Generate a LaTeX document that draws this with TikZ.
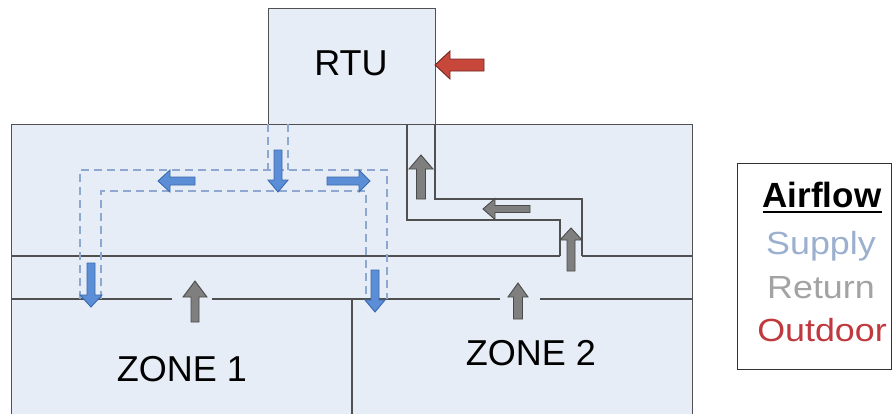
\documentclass[tikz,border=0pt]{standalone}
\usepackage{fontspec}
\setmainfont{Liberation Sans}
\newfontfamily\legfont[FakeStretch=1.12]{Liberation Sans}
\definecolor{bldfill}{HTML}{E7EDF6}
\definecolor{wallc}{HTML}{505050}
\definecolor{supfill}{HTML}{5B8ED6}
\definecolor{supdraw}{HTML}{3A6AAE}
\definecolor{supdash}{HTML}{8FA8D2}
\definecolor{retfill}{HTML}{7F7F7F}
\definecolor{retdraw}{HTML}{4A4A4A}
\definecolor{outfill}{HTML}{C8473B}
\definecolor{outdraw}{HTML}{6E2A24}
\definecolor{suptext}{HTML}{9BB0CE}
\definecolor{rettext}{HTML}{A3A3A3}
\definecolor{outtext}{HTML}{C0393E}
\tikzset{
  pics/blockarrow/.style n args={4}{code={
    \path[pic actions] (0,-#2) -- ({#1-#4},-#2) -- ({#1-#4},-#3) -- (#1,0)
      -- ({#1-#4},#3) -- ({#1-#4},#2) -- (0,#2) -- cycle;
  }},
  supply/.style={fill=supfill, draw=supdraw, line width=0.9pt},
  return/.style={fill=retfill, draw=retdraw, line width=0.9pt},
  outdoor/.style={fill=outfill, draw=outdraw, line width=0.9pt},
  wall/.style={draw=wallc, line width=1.3pt},
  duct/.style={draw=supdash, line width=1.4pt, dash pattern=on 8pt off 5pt},
  bigtext/.style={inner sep=0pt, font=\fontsize{36}{40}\selectfont},
  legtext/.style={inner sep=0pt, anchor=base, font=\legfont\fontsize{32}{36}\selectfont},
}
\begin{document}
\begin{tikzpicture}[x=1pt, y=-1pt]
\useasboundingbox (0,0) rectangle (893,413);
\clip (0,0) rectangle (893,413);
% building
\node[wall, fill=bldfill, anchor=north west, minimum width=681pt, minimum height=306pt, inner sep=0pt] (bldg) at (11,124) {};
% RTU
\node[wall, fill=bldfill, anchor=north west, minimum width=167pt, minimum height=116pt, inner sep=0pt] (rtu) at (268,8) {};
\node[bigtext] (rtulabel) at (351,63) {RTU};
% interior walls
\coordinate (h1a) at (11,256); \coordinate (h1b) at (560,256);
\coordinate (h1c) at (582,256); \coordinate (h1d) at (692,256);
\draw[wall] (h1a) -- (h1b);
\draw[wall] (h1c) -- (h1d);
\coordinate (h2a) at (11,299); \coordinate (h2b) at (172,299);
\coordinate (h2c) at (212,299); \coordinate (h2d) at (500,299);
\coordinate (h2e) at (540,299); \coordinate (h2f) at (692,299);
\draw[wall] (h2a) -- (h2b);
\draw[wall] (h2c) -- (h2d);
\draw[wall] (h2e) -- (h2f);
\coordinate (zdiv) at (352,299);
\draw[wall] (zdiv) -- (352,430);
% return duct
\draw[wall] (407,124) -- (407,220) -- (560,220) -- (h1b);
\draw[wall] (435,124) -- (435,199) -- (582,199) -- (h1c);
% supply duct (dashed)
\draw[duct] (268,124) -- (268,170);
\draw[duct] (288,124) -- (288,170);
\draw[duct] (80,299) -- (80,170) -- (387,170) -- (387,299);
\draw[duct] (101,299) -- (101,191) -- (366,191) -- (366,299);
% supply arrows
\pic[supply, rotate=-90] at (278,150) {blockarrow={42}{4}{10}{12}};
\pic[supply, rotate=180] at (195,181) {blockarrow={37}{4}{11}{12}};
\pic[supply] at (327,181) {blockarrow={43}{4}{11}{11}};
\pic[supply, rotate=-90] at (91,263) {blockarrow={44}{4}{11}{12}};
\pic[supply, rotate=-90] at (375,270) {blockarrow={42}{4}{10}{12}};
% return arrows
\pic[return, rotate=90] at (421,199) {blockarrow={44}{4.5}{12}{14}};
\pic[return, rotate=180] at (530,209) {blockarrow={47}{3.5}{10.5}{12}};
\pic[return, rotate=90] at (571,271) {blockarrow={43}{4}{11}{12}};
\pic[return, rotate=90] at (195,322) {blockarrow={41}{4}{12}{16}};
\pic[return, rotate=90] at (518,319) {blockarrow={36}{4.5}{10}{14}};
% outdoor arrow
\pic[outdoor, rotate=180] at (484,65) {blockarrow={49}{6}{14}{15}};
% zone labels
\node[bigtext] (zone1) at (182,369) {ZONE 1};
\node[bigtext] (zone2) at (531,353) {ZONE 2};
% legend
\node[draw=black!80, line width=1.4pt, fill=white, anchor=north west, minimum width=154pt, minimum height=206pt, inner sep=0pt] (legend) at (737,163) {};
\node[inner sep=0pt, anchor=base, font=\fontsize{35}{38}\selectfont\bfseries] (air) at (822,207) {Airflow};
\draw[line width=2.6pt] ([yshift=-5pt]air.base west) -- ([yshift=-5pt]air.base east);
\node[legtext, text=suptext] (sup) at (821,254) {Supply};
\node[legtext, text=rettext] (ret) at (821,298) {Return};
\node[legtext, text=outtext] (out) at (822,341) {Outdoor};
\end{tikzpicture}
\end{document}
